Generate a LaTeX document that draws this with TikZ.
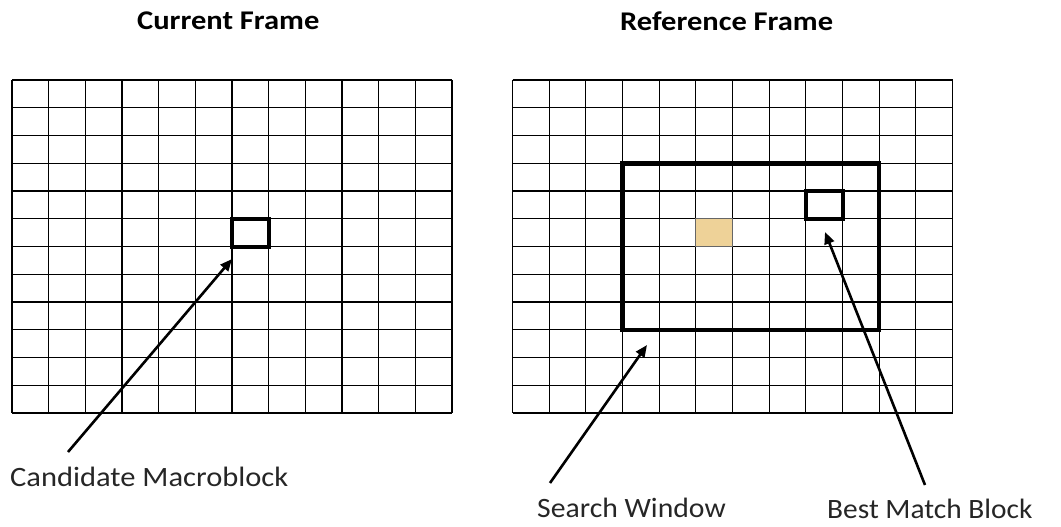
\documentclass[tikz,border=0pt]{standalone}
\usepackage{fontspec}
\setmainfont{Carlito}
\usetikzlibrary{arrows.meta}
\definecolor{tanfill}{RGB}{238,210,152}
\tikzset{
  gridline/.style={line width=1.2pt, black},
  blockbox/.style={draw=black, line width=4pt, inner sep=0pt, minimum width=36.667pt, minimum height=27.75pt},
  tanbox/.style={draw=black!60, line width=0.8pt, fill=tanfill, inner sep=0pt, minimum width=36.667pt, minimum height=27.75pt},
  title/.style={font=\fontsize{27}{30}\selectfont\bfseries, anchor=west, inner sep=0pt},
  label/.style={font=\fontsize{28}{32}\selectfont, anchor=west, inner sep=0pt, text=black!85},
  pointer/.style={line width=2.6pt, -{Triangle[length=12pt,width=10pt]}}
}
\newcommand{\wide}[2]{\scalebox{#1}[1]{#2}}
\begin{document}
\begin{tikzpicture}[x=1pt,y=-1pt]
\useasboundingbox (0,0) rectangle (1061,527);
% grids
\foreach \gx in {12,512.5}{
  \foreach \i in {0,...,12}{
    \draw[gridline] ({\gx+\i*36.667},80) -- ({\gx+\i*36.667},413);
    \draw[gridline] (\gx,{80+\i*27.75}) -- ({\gx+440},{80+\i*27.75});
  }
}
% titles
\node[title] (t1) at (137,21) {\wide{1.13}{Current Frame}};
\node[title] (t2) at (620,21) {\wide{1.13}{Reference Frame}};
% candidate macroblock
\node[blockbox] (mb) at ({12+6.5*36.667},{80+5.5*27.75}) {};
% reference frame features
\node[tanbox] (tan) at ({512.5+5.5*36.667},{80+5.5*27.75}) {};
\node[draw=black, line width=4.5pt, inner sep=0pt, minimum width={7*36.667pt}, minimum height={6*27.75pt}] (sw) at ({512.5+6.5*36.667},{80+6*27.75}) {};
\node[blockbox] (bm) at ({512.5+8.5*36.667},{80+4.5*27.75}) {};
% labels
\node[label] (lc) at (10,477) {\wide{1.09}{Candidate Macroblock}};
\node[label] (ls) at (537,508) {\wide{1.06}{Search Window}};
\node[label] (lb) at (827,509) {\wide{1.05}{Best Match Block}};
% arrow endpoints
\coordinate (c1) at (68,452);
\coordinate (c2) at (232,259);
\coordinate (s1) at (550,483);
\coordinate (s2) at (647,345);
\coordinate (b1) at (925,485);
\coordinate (b2) at (825,232);
\draw[pointer] (c1) -- (c2);
\draw[pointer] (s1) -- (s2);
\draw[pointer] (b1) -- (b2);
\end{tikzpicture}
\end{document}
